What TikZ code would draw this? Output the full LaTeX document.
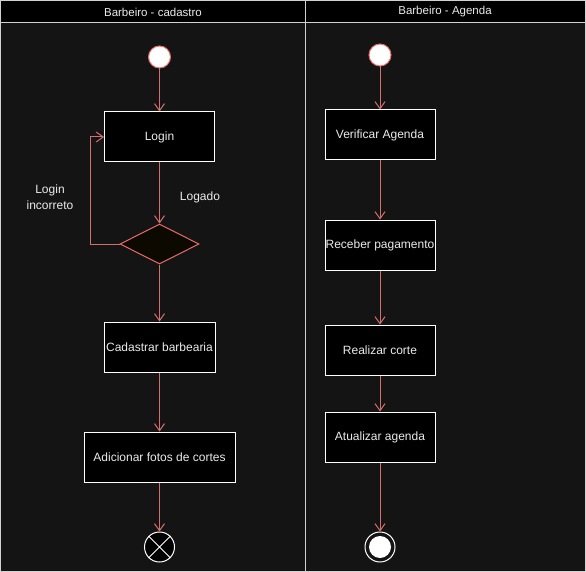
\documentclass[tikz,border=0pt]{standalone}
\usepackage{fontspec}
\setmainfont{Liberation Sans}
\usetikzlibrary{shapes.geometric,arrows.meta}
\definecolor{bgdark}{RGB}{20,20,20}
\definecolor{linec}{RGB}{234,107,102}
\definecolor{arrc}{RGB}{214,110,108}
\definecolor{txtc}{RGB}{235,235,235}
\definecolor{framec}{RGB}{210,210,210}
\definecolor{decfill}{RGB}{12,10,0}
\tikzset{
  act/.style={draw=white, fill=black, line width=1pt, text=txtc, font=\fontsize{12}{14}\selectfont, minimum height=50pt, inner sep=0pt},
  startc/.style={circle, draw=linec, fill=white, line width=1pt, minimum size=22pt, inner sep=0pt},
  endx/.style={circle, draw=white, fill=black, line width=1pt, minimum size=30pt, inner sep=0pt},
  endo/.style={circle, draw=white, fill=bgdark, line width=1pt, minimum size=30pt, inner sep=0pt},
  dec/.style={diamond, draw=linec, fill=decfill, line width=1pt, minimum width=79pt, minimum height=40pt, inner sep=0pt},
  arr/.style={draw=arrc, line width=1pt, -{Straight Barb[length=7pt,width=10pt]}},
  lbl/.style={text=txtc, font=\fontsize{12}{16}\selectfont, align=center},
  hdr/.style={text=txtc, font=\fontsize{11.5}{14}\selectfont}
}
\begin{document}
\begin{tikzpicture}[x=1pt,y=-1pt]
\useasboundingbox (0,0) rectangle (586,572);
\fill[bgdark] (0,0) rectangle (586,572);
\fill[black] (0,0) rectangle (586,23);
\draw[framec, line width=1pt] (0.5,0.5) rectangle (305,571);
\draw[framec, line width=1pt] (305,0.5) rectangle (585.5,571);
\draw[framec, line width=1pt] (0.5,23) -- (585.5,23);
\node[hdr] (h1) at (153,12) {Barbeiro - cadastro};
\node[hdr] (h2) at (445,12) {Barbeiro - Agenda};
% left lane
\node[startc] (s1) at (159.5,57) {};
\node[act, minimum width=110pt] (login) at (159.5,137) {Login};
\node[dec] (d) at (159.5,244) {};
\node[act, minimum width=111pt] (cad) at (159.5,347) {Cadastrar barbearia};
\node[act, minimum width=151pt] (adi) at (159.5,457) {Adicionar fotos de cortes};
\node[endx] (e1) at (159.5,547) {};
\draw[white, line width=1pt] (e1.north west) -- (e1.south east) (e1.north east) -- (e1.south west);
\node[lbl] (lg) at (200,197) {Logado};
\node[lbl] (li) at (50,197) {Login\\incorreto};
\draw[arr] (s1) -- (login);
\draw[arr] (login) -- (d);
\draw[arr] (d.west) -- ++(-29,0) |- (login.west);
\draw[arr] (d) -- (cad);
\draw[arr] (cad) -- (adi);
\draw[arr] (adi) -- (e1);
% right lane
\node[startc] (s2) at (380,55) {};
\node[act, minimum width=110pt] (ver) at (380,135) {Verificar Agenda};
\node[act, minimum width=110pt] (rec) at (380,245) {Receber pagamento};
\node[act, minimum width=110pt] (rea) at (380,350) {Realizar corte};
\node[act, minimum width=110pt] (atu) at (380,437) {Atualizar agenda};
\node[endo] (e2) at (380,547) {};
\fill[white] (e2.center) circle (11pt);
\draw[arr] (s2) -- (ver);
\draw[arr] (ver) -- (rec);
\draw[arr] (rec) -- (rea);
\draw[arr] (rea) -- (atu);
\draw[arr] (atu) -- (e2);
\end{tikzpicture}
\end{document}
